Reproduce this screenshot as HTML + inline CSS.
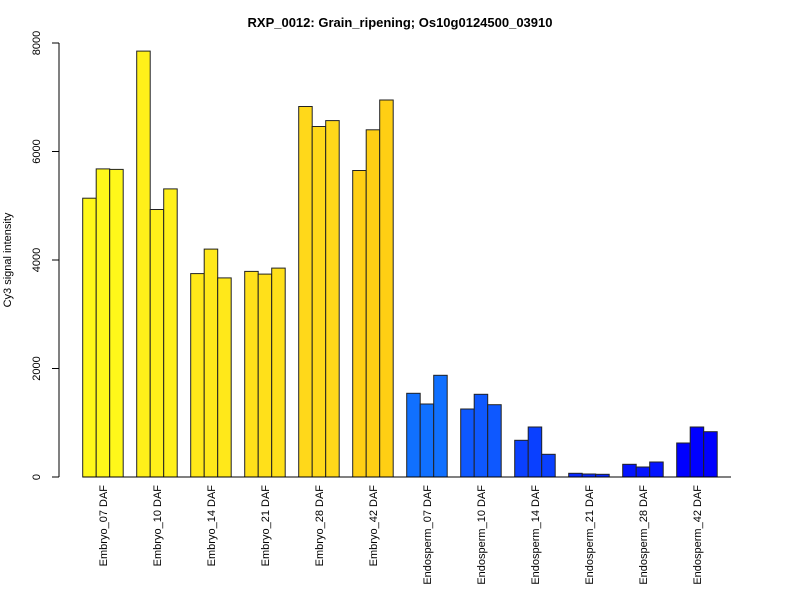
<!DOCTYPE html><html><head><style>body{margin:0;background:#fff}</style></head><body>
<svg width="800" height="600" xmlns="http://www.w3.org/2000/svg" font-family="Liberation Sans, sans-serif">
<text x="400" y="27" text-anchor="middle" font-weight="bold" font-size="13">RXP_0012: Grain_ripening; Os10g0124500_03910</text>
<line x1="59" y1="43" x2="59" y2="477" stroke="#000"/>
<g font-size="11" text-anchor="middle">
<line x1="52" y1="477" x2="59" y2="477" stroke="#000"/><text transform="translate(40,477) rotate(-90)">0</text>
<line x1="52" y1="368.5" x2="59" y2="368.5" stroke="#000"/><text transform="translate(40,368.5) rotate(-90)">2000</text>
<line x1="52" y1="260" x2="59" y2="260" stroke="#000"/><text transform="translate(40,260) rotate(-90)">4000</text>
<line x1="52" y1="151.5" x2="59" y2="151.5" stroke="#000"/><text transform="translate(40,151.5) rotate(-90)">6000</text>
<line x1="52" y1="43" x2="59" y2="43" stroke="#000"/><text transform="translate(40,43) rotate(-90)">8000</text>
<text transform="translate(11,260) rotate(-90)">Cy3 signal intensity</text>
</g>
<g stroke="#222" stroke-width="1">
<g fill="#FFF81A"><rect x="82.7" y="198.2" width="13.5" height="278.8"/><rect x="96.2" y="168.9" width="13.5" height="308.1"/><rect x="109.7" y="169.4" width="13.5" height="307.6"/></g>
<g fill="#FFF01A"><rect x="136.7" y="51.1" width="13.5" height="425.9"/><rect x="150.2" y="209.5" width="13.5" height="267.5"/><rect x="163.7" y="188.9" width="13.5" height="288.1"/></g>
<g fill="#FFE81A"><rect x="190.7" y="273.6" width="13.5" height="203.4"/><rect x="204.2" y="249.1" width="13.5" height="227.9"/><rect x="217.7" y="277.9" width="13.5" height="199.1"/></g>
<g fill="#FFE01A"><rect x="244.7" y="271.4" width="13.5" height="205.6"/><rect x="258.2" y="274.1" width="13.5" height="202.9"/><rect x="271.7" y="268.1" width="13.5" height="208.9"/></g>
<g fill="#FFD81A"><rect x="298.7" y="106.5" width="13.5" height="370.5"/><rect x="312.2" y="126.5" width="13.5" height="350.5"/><rect x="325.7" y="120.6" width="13.5" height="356.4"/></g>
<g fill="#FFCF14"><rect x="352.7" y="170.5" width="13.5" height="306.5"/><rect x="366.2" y="129.8" width="13.5" height="347.2"/><rect x="379.7" y="100" width="13.5" height="377"/></g>
<g fill="#1070FF"><rect x="406.7" y="393.3" width="13.5" height="83.7"/><rect x="420.2" y="404" width="13.5" height="73"/><rect x="433.7" y="375.3" width="13.5" height="101.7"/></g>
<g fill="#0E58FF"><rect x="460.7" y="409" width="13.5" height="68"/><rect x="474.2" y="394.3" width="13.5" height="82.7"/><rect x="487.7" y="404.7" width="13.5" height="72.3"/></g>
<g fill="#0A40FF"><rect x="514.7" y="440.3" width="13.5" height="36.7"/><rect x="528.2" y="427" width="13.5" height="50"/><rect x="541.7" y="454.3" width="13.5" height="22.7"/></g>
<g fill="#0828FF"><rect x="568.7" y="473.3" width="13.5" height="3.7"/><rect x="582.2" y="474" width="13.5" height="3"/><rect x="595.7" y="474.3" width="13.5" height="2.7"/></g>
<g fill="#0414FF"><rect x="622.7" y="464.3" width="13.5" height="12.7"/><rect x="636.2" y="467" width="13.5" height="10"/><rect x="649.7" y="462" width="13.5" height="15"/></g>
<g fill="#0000FF"><rect x="676.7" y="443" width="13.5" height="34"/><rect x="690.2" y="427" width="13.5" height="50"/><rect x="703.7" y="431.7" width="13.5" height="45.3"/></g>
</g>
<line x1="83" y1="477" x2="731" y2="477" stroke="#000"/>
<g font-size="11" text-anchor="end">
<text transform="translate(107,485) rotate(-90)">Embryo_07 DAF</text>
<text transform="translate(161,485) rotate(-90)">Embryo_10 DAF</text>
<text transform="translate(215,485) rotate(-90)">Embryo_14 DAF</text>
<text transform="translate(269,485) rotate(-90)">Embryo_21 DAF</text>
<text transform="translate(323,485) rotate(-90)">Embryo_28 DAF</text>
<text transform="translate(377,485) rotate(-90)">Embryo_42 DAF</text>
<text transform="translate(431,485) rotate(-90)">Endosperm_07 DAF</text>
<text transform="translate(485,485) rotate(-90)">Endosperm_10 DAF</text>
<text transform="translate(539,485) rotate(-90)">Endosperm_14 DAF</text>
<text transform="translate(593,485) rotate(-90)">Endosperm_21 DAF</text>
<text transform="translate(647,485) rotate(-90)">Endosperm_28 DAF</text>
<text transform="translate(701,485) rotate(-90)">Endosperm_42 DAF</text>
</g>
</svg></body></html>
